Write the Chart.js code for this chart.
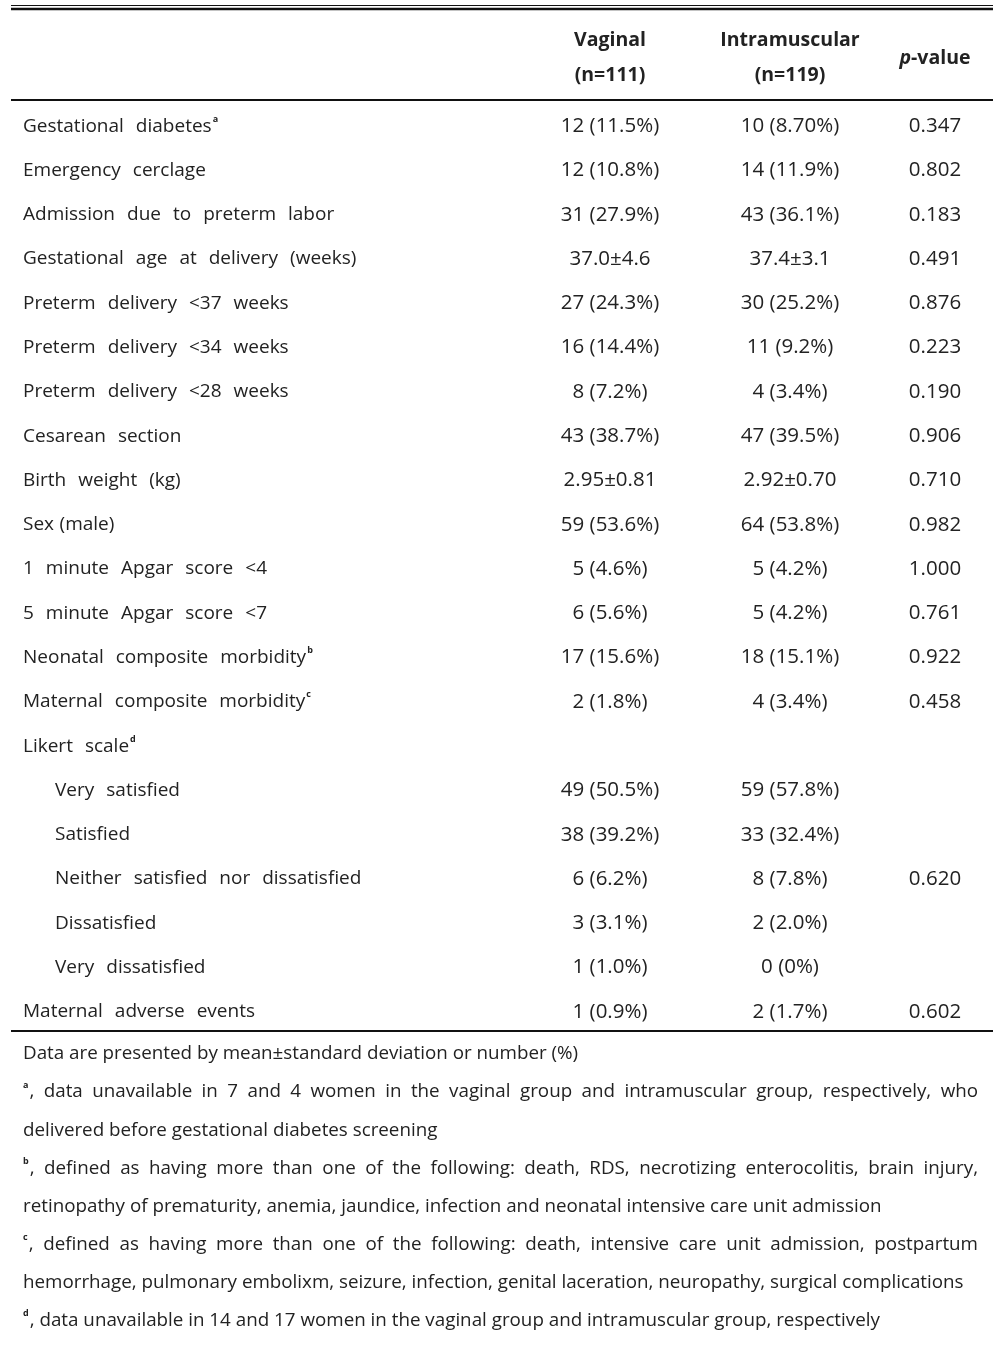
<!DOCTYPE html>
<html>
<head>
<meta charset="utf-8">
<script src="https://cdn.jsdelivr.net/npm/chart.js@4.4.1/dist/chart.umd.min.js"></script>
<style>
  html, body { margin: 0; padding: 0; background: #fff; }
  #tbl { display: block; }
</style>
</head>
<body>
<canvas id="tbl" width="1003" height="1345"></canvas>
<script>
// table content
const rowLabels = [
  'Gestational diabetes', 'Emergency cerclage', 'Admission due to preterm labor',
  'Gestational age at delivery (weeks)', 'Preterm delivery <37 weeks', 'Preterm delivery <34 weeks',
  'Preterm delivery <28 weeks', 'Cesarean section', 'Birth weight (kg)', 'Sex (male)',
  '1 minute Apgar score <4', '5 minute Apgar score <7', 'Neonatal composite morbidity',
  'Maternal composite morbidity', 'Likert scale', 'Very satisfied', 'Satisfied',
  'Neither satisfied nor dissatisfied', 'Dissatisfied', 'Very dissatisfied', 'Maternal adverse events'
];
const rowNotes = ['a', '', '', '', '', '', '', '', '', '', '', '', 'b', 'c', 'd', '', '', '', '', '', ''];
const likertItems = ['Very satisfied', 'Satisfied', 'Neither satisfied nor dissatisfied', 'Dissatisfied', 'Very dissatisfied'];

const vaginal = [
  '12 (11.5%)', '12 (10.8%)', '31 (27.9%)', '37.0±4.6', '27 (24.3%)', '16 (14.4%)', '8 (7.2%)',
  '43 (38.7%)', '2.95±0.81', '59 (53.6%)', '5 (4.6%)', '6 (5.6%)', '17 (15.6%)', '2 (1.8%)', '',
  '49 (50.5%)', '38 (39.2%)', '6 (6.2%)', '3 (3.1%)', '1 (1.0%)', '1 (0.9%)'
];
const intramuscular = [
  '10 (8.70%)', '14 (11.9%)', '43 (36.1%)', '37.4±3.1', '30 (25.2%)', '11 (9.2%)', '4 (3.4%)',
  '47 (39.5%)', '2.92±0.70', '64 (53.8%)', '5 (4.2%)', '5 (4.2%)', '18 (15.1%)', '4 (3.4%)', '',
  '59 (57.8%)', '33 (32.4%)', '8 (7.8%)', '2 (2.0%)', '0 (0%)', '2 (1.7%)'
];
const pValues = [
  '0.347', '0.802', '0.183', '0.491', '0.876', '0.223', '0.190', '0.906', '0.710', '0.982',
  '1.000', '0.761', '0.922', '0.458', '', '', '', '0.620', '', '', '0.602'
];

const groupNames = ['Vaginal', 'Intramuscular'];
const groupN = ['(n=111)', '(n=119)'];

const footnotes = [
  { mark: '', text: 'Data are presented by mean±standard deviation or number (%)', justify: false },
  { mark: 'a', text: ', data unavailable in 7 and 4 women in the vaginal group and intramuscular group, respectively, who', justify: true },
  { mark: '', text: 'delivered before gestational diabetes screening', justify: false },
  { mark: 'b', text: ', defined as having more than one of the following: death, RDS, necrotizing enterocolitis, brain injury,', justify: true },
  { mark: '', text: 'retinopathy of prematurity, anemia, jaundice, infection and neonatal intensive care unit admission', justify: false },
  { mark: 'c', text: ', defined as having more than one of the following: death, intensive care unit admission, postpartum', justify: true },
  { mark: '', text: 'hemorrhage, pulmonary embolixm, seizure, infection, genital laceration, neuropathy, surgical complications', justify: false },
  { mark: 'd', text: ', data unavailable in 14 and 17 women in the vaginal group and intramuscular group, respectively', justify: false }
];

const FONT = '"Open Sans", "Noto Sans", sans-serif';
const INK = '#222';

// draws words with a fixed gap between them, returns end x
function drawSpaced(ctx, text, x, y, gap) {
  const words = text.split(' ');
  words.forEach((w, i) => {
    ctx.fillText(w, x, y);
    x += ctx.measureText(w).width + (i < words.length - 1 ? gap : 0);
  });
  return x;
}

const tablePlugin = {
  id: 'tablePlugin',
  afterDraw(chart) {
    const ctx = chart.ctx;
    const xs = chart.scales.x;
    const ys = chart.scales.y;
    const area = chart.chartArea;
    const cols = chart.options.plugins.tablePlugin;
    const left = xs.getPixelForValue(cols.ruleFrom);
    const right = xs.getPixelForValue(cols.ruleTo);

    ctx.save();
    ctx.fillStyle = INK;
    ctx.strokeStyle = '#111';

    // rules
    const hline = (y, w) => {
      ctx.lineWidth = w;
      ctx.beginPath();
      ctx.moveTo(left, y);
      ctx.lineTo(right, y);
      ctx.stroke();
    };
    hline(area.top - 96.5, 1);
    hline(area.top - 93, 2.5);
    hline(area.top - 2, 2);
    hline(area.bottom - 1, 2);

    // header
    const cx = cols.centers.map(v => xs.getPixelForValue(v));
    ctx.textBaseline = 'middle';
    ctx.textAlign = 'center';
    ctx.font = 'bold 19.5px ' + FONT;
    groupNames.forEach((g, i) => {
      ctx.fillText(g, cx[i], area.top - 62);
      ctx.fillText(groupN[i], cx[i], area.top - 27);
    });
    ctx.textAlign = 'left';
    ctx.font = 'italic bold 19.5px ' + FONT;
    const pw = ctx.measureText('p').width;
    ctx.font = 'bold 19.5px ' + FONT;
    const vw = ctx.measureText('-value').width;
    const px0 = cx[2] - (pw + vw) / 2;
    ctx.font = 'italic bold 19.5px ' + FONT;
    ctx.fillText('p', px0, area.top - 44);
    ctx.font = 'bold 19.5px ' + FONT;
    ctx.fillText('-value', px0 + pw, area.top - 44);

    // body rows
    rowLabels.forEach((label, i) => {
      const y = ys.getPixelForValue(i) + 2;
      const sub = likertItems.includes(label);
      ctx.font = '19px ' + FONT;
      ctx.textAlign = 'left';
      const x0 = xs.getPixelForValue(sub ? cols.indentX : cols.labelX);
      const endX = drawSpaced(ctx, label, x0, y, label === 'Sex (male)' ? 5.5 : 12);
      if (rowNotes[i]) {
        ctx.font = 'bold 9px ' + FONT;
        ctx.fillText(rowNotes[i], endX + 1, y - 7);
      }
      ctx.font = '20.5px ' + FONT;
      ctx.textAlign = 'center';
      ctx.fillText(vaginal[i], cx[0], y);
      ctx.fillText(intramuscular[i], cx[1], y);
      ctx.fillText(pValues[i], cx[2], y);
    });

    // footnotes
    ctx.textAlign = 'left';
    const fx = xs.getPixelForValue(cols.labelX);
    const fRight = xs.getPixelForValue(cols.noteRight);
    footnotes.forEach((f, i) => {
      const y = area.bottom + 22 + i * 38.1;
      let x = fx;
      if (f.mark) {
        ctx.font = 'bold 9px ' + FONT;
        ctx.fillText(f.mark, x, y - 7);
        x += ctx.measureText(f.mark).width + 1;
      }
      ctx.font = '18.8px ' + FONT;
      const words = f.text.split(' ');
      let gap = ctx.measureText(' ').width;
      if (f.justify) {
        const ww = words.reduce((s, w) => s + ctx.measureText(w).width, 0);
        gap = (fRight - x - ww) / (words.length - 1);
      }
      drawSpaced(ctx, f.text, x, y, gap);
    });
    ctx.restore();
  }
};

new Chart(document.getElementById('tbl'), {
  type: 'scatter',
  data: { labels: rowLabels, datasets: [] },
  options: {
    responsive: false,
    animation: false,
    layout: { padding: { top: 102, bottom: 313, left: 0, right: 0 } },
    scales: {
      x: { type: 'linear', min: 0, max: 1003, display: false },
      y: { type: 'category', labels: rowLabels, offset: true, display: false }
    },
    plugins: {
      legend: { display: false },
      tooltip: { enabled: false },
      tablePlugin: {
        labelX: 23, indentX: 55,
        centers: [610, 790, 935],
        ruleFrom: 11, ruleTo: 993, noteRight: 978
      }
    }
  },
  plugins: [tablePlugin]
});
</script>
</body>
</html>
